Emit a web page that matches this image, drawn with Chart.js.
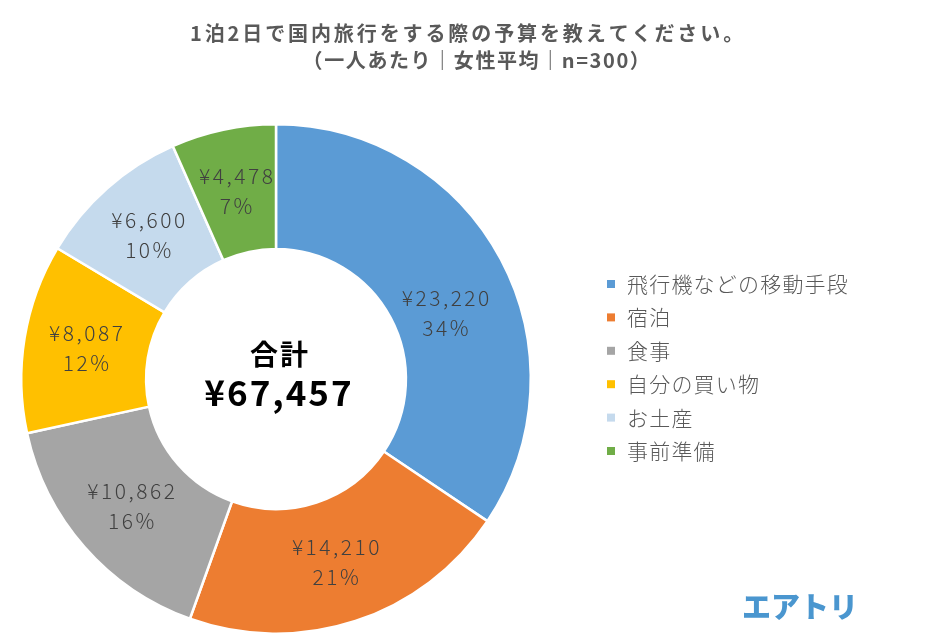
<!DOCTYPE html>
<html><head><meta charset="utf-8">
<script src="https://cdn.jsdelivr.net/npm/chart.js@4"></script>
<style>html,body{margin:0;padding:0;background:#fff;}#wrap{position:relative;width:934px;height:639px;}</style>
</head><body><div id="wrap"><canvas id="c" width="934" height="639"></canvas></div>
<script>
const categories = ['飛行機などの移動手段','宿泊','食事','自分の買い物','お土産','事前準備'];
const values = [23220, 14210, 10862, 8087, 6600, 4478];
const percentLabels = ['34%','21%','16%','12%','10%','7%'];
const colors = ['#5B9BD5','#ED7D31','#A5A5A5','#FFC000','#C5DAED','#70AD47'];
const titleLines = ['1泊2日で国内旅行をする際の予算を教えてください。','（一人あたり｜女性平均｜n=300）'];
const centerTitle = '合計';
const totalLabel = '¥67,457';
const labelShiftY = [24,0,0,0,0,0];
const FONT = '"Noto Sans CJK JP", "Noto Sans", sans-serif';
const fmt = v => '¥' + v.toLocaleString('en-US');

const drawPlugin = {
  id: 'extras',
  afterDraw(chart) {
    const ctx = chart.ctx;
    ctx.save();
    ctx.textAlign = 'center';
    ctx.textBaseline = 'middle';
    // title
    ctx.fillStyle = '#595959';
    ctx.font = 'bold 20px ' + FONT;
    ctx.letterSpacing = '2.9px';
    ctx.fillText(titleLines[0], 468, 33);
    ctx.letterSpacing = '1.6px';
    ctx.fillText(titleLines[1], 477, 60);
    // slice labels
    const meta = chart.getDatasetMeta(0);
    ctx.font = '300 21px ' + FONT;
    ctx.letterSpacing = '2.5px';
    ctx.fillStyle = '#404040';
    meta.data.forEach((arc, i) => {
      const p = arc.getCenterPoint();
      const y = p.y + labelShiftY[i];
      ctx.fillText(fmt(values[i]), p.x + 1, y - 15);
      ctx.fillText(percentLabels[i], p.x + 1, y + 15);
    });
    // center text
    const cx = meta.data[0].x, cy = meta.data[0].y;
    ctx.fillStyle = '#000';
    ctx.letterSpacing = '2px';
    ctx.font = 'bold 28px ' + FONT;
    ctx.fillText(centerTitle, cx + 4, cy - 25);
    ctx.letterSpacing = '2px';
    ctx.font = 'bold 35px ' + FONT;
    ctx.fillText(totalLabel, cx + 3, cy + 14);
    // legend
    ctx.textAlign = 'left';
    ctx.letterSpacing = '1.2px';
    ctx.font = '300 21px ' + FONT;
    categories.forEach((c, i) => {
      const y = 284 + i * 33.4;
      ctx.fillStyle = colors[i];
      ctx.fillRect(607, y - 4, 8, 8);
      ctx.fillStyle = '#595959';
      ctx.fillText(c, 627, y);
    });
    // logo
    ctx.textAlign = 'center';
    ctx.letterSpacing = '0px';
    ctx.fillStyle = '#4A96CF';
    ctx.font = '900 29px ' + FONT;
    ctx.fillText('エアトリ', 800, 607);
    ctx.restore();
  }
};

new Chart(document.getElementById('c'), {
  type: 'doughnut',
  data: {
    labels: categories,
    datasets: [{
      data: values,
      backgroundColor: colors,
      borderColor: '#ffffff',
      borderWidth: 2.5,
      hoverOffset: 0
    }]
  },
  options: {
    responsive: false,
    animation: false,
    cutout: '51%',
    layout: { padding: { left: 20, right: 402, top: 123, bottom: 4 } },
    plugins: { legend: { display: false }, title: { display: false }, tooltip: { enabled: false } }
  },
  plugins: [drawPlugin]
});
</script>
</body></html>
